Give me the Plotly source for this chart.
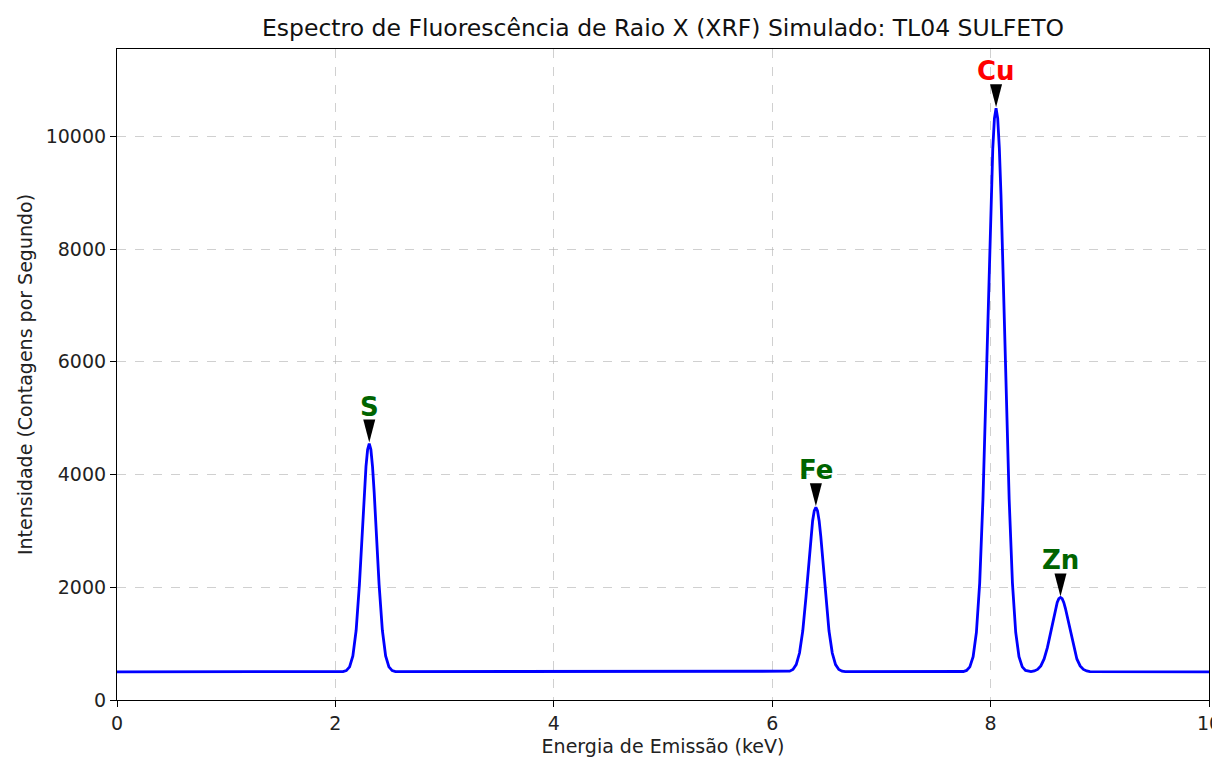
import plotly.graph_objects as go

# ---- data ----
energy_kev = [
    0.0,
    2.07, 2.10, 2.13, 2.16, 2.19, 2.22, 2.25, 2.265, 2.28, 2.295, 2.31, 2.325, 2.34, 2.355, 2.37, 2.40, 2.43, 2.46, 2.49, 2.52, 2.55,
    6.13, 6.16, 6.19, 6.22, 6.25, 6.28, 6.31, 6.34, 6.355, 6.37, 6.385, 6.40, 6.415, 6.43, 6.445, 6.46, 6.49, 6.52, 6.55, 6.58, 6.61, 6.64, 6.67,
    7.75, 7.78, 7.81, 7.84, 7.87, 7.90, 7.93, 7.96, 7.99, 8.005, 8.02, 8.035, 8.05, 8.065, 8.08, 8.095, 8.11, 8.14, 8.17, 8.20, 8.23, 8.26, 8.29, 8.32, 8.35,
    8.37, 8.40, 8.43, 8.46, 8.49, 8.52, 8.55, 8.58, 8.595, 8.61, 8.625, 8.64, 8.655, 8.67, 8.685, 8.70, 8.73, 8.76, 8.79, 8.82, 8.85, 8.88, 8.91,
    10.0,
]
intensity_cps = [
    500,
    504, 522, 587, 783, 1237, 2051, 3145, 3687, 4141, 4443, 4550, 4443, 4141, 3687, 3145, 2051, 1237, 783, 587, 522, 504,
    503, 511, 541, 628, 833, 1228, 1837, 2564, 2902, 3177, 3357, 3420, 3357, 3177, 2902, 2564, 1837, 1228, 833, 628, 541, 511, 503,
    506, 525, 588, 767, 1198, 2074, 3563, 5639, 7939, 8967, 9787, 10317, 10500, 10317, 9787, 8967, 7939, 5639, 3563, 2074, 1198, 767, 588, 525, 506,
    504, 515, 542, 605, 728, 929, 1201, 1497, 1627, 1730, 1797, 1820, 1797, 1730, 1627, 1497, 1201, 929, 728, 605, 542, 515, 504,
    500,
]

peak_elements = ["S", "Fe", "Cu", "Zn"]
peak_energy = [2.31, 6.40, 8.05, 8.64]
peak_height = [4550, 3420, 10500, 1820]
peak_colors = ["#006400", "#006400", "#ff0000", "#006400"]

x_ticks = [0, 2, 4, 6, 8, 10]
y_ticks = [0, 2000, 4000, 6000, 8000, 10000]

# ---- layout geometry (page body has an 8px margin) ----
W, H = 1212, 750
ML, MR, MT, MB = 109, 11, 41, 58
x_range = [0, 10]
y_range = [0, max(intensity_cps) * 1.1]
px_per_x = (W - ML - MR) / (x_range[1] - x_range[0])
px_per_y = (H - MT - MB) / (y_range[1] - y_range[0])

fig = go.Figure()
fig.add_trace(go.Scatter(
    x=energy_kev, y=intensity_cps, mode="lines",
    line=dict(color="#0000ff", width=2.8), showlegend=False, hoverinfo="skip",
))

# arrow wedges + labels
tri_half_w = 6.0 / px_per_x
tri_h = 23 / px_per_y
tip_gap = 1.0 / px_per_y
for el, ex, ey, col in zip(peak_elements, peak_energy, peak_height, peak_colors):
    tip = ey + tip_gap
    top = tip + tri_h
    fig.add_shape(
        type="path",
        path=f"M {ex - tri_half_w},{top} L {ex + tri_half_w},{top} L {ex},{tip} Z",
        fillcolor="black", line=dict(color="black", width=0), layer="above",
    )
    fig.add_annotation(
        x=ex, y=top, text=f"<b>{el}</b>", showarrow=False,
        yanchor="bottom", yshift=-4,
        font=dict(family="DejaVu Sans", size=26, color=col),
    )

grid_style = dict(showgrid=True, gridcolor="rgba(176,176,176,0.6)", griddash="dash", gridwidth=1)

fig.update_layout(
    width=W, height=H,
    margin=dict(l=ML, r=MR, t=MT, b=MB),
    paper_bgcolor="white", plot_bgcolor="white",
    font=dict(family="DejaVu Sans", size=19, color="#222222"),
    title=dict(
        text="Espectro de Fluorescência de Raio X (XRF) Simulado: TL04 SULFETO",
        x=(ML + (W - ML - MR) / 2) / W, xanchor="center",
        y=1 - 20 / H, yanchor="middle",
        font=dict(family="DejaVu Sans", size=23.5, color="#111111"),
    ),
    xaxis=dict(
        range=x_range, tickvals=x_ticks, ticktext=[str(v) for v in x_ticks],
        showline=True, linecolor="black", linewidth=1.2, mirror=True,
        ticks="outside", ticklen=6, tickcolor="black", automargin=False,
        ticklabeloverflow="allow",
        title=dict(text="Energia de Emissão (keV)", standoff=6, font=dict(size=19)),
        zeroline=False, **grid_style,
    ),
    yaxis=dict(
        range=y_range, tickvals=y_ticks, ticktext=[str(v) for v in y_ticks],
        showline=True, linecolor="black", linewidth=1.2, mirror=True,
        ticks="outside", ticklen=6, tickcolor="black", automargin=False,
        title=dict(text="Intensidade (Contagens por Segundo)", standoff=7, font=dict(size=19)),
        zeroline=False, **grid_style,
    ),
)

fig.write_html("out.html")
